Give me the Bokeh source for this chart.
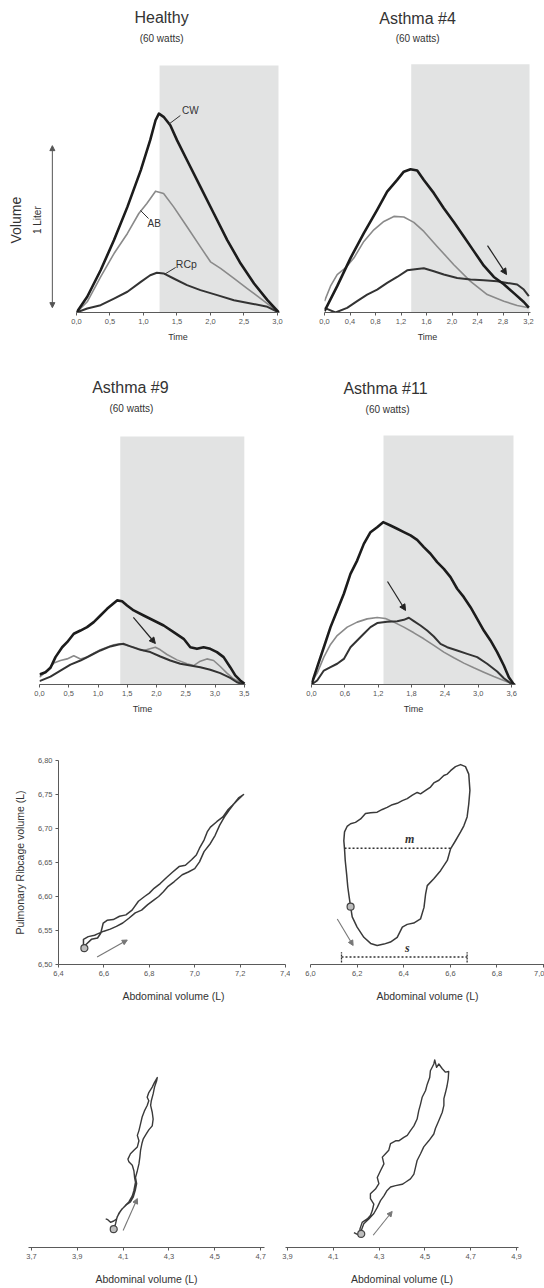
from bokeh.plotting import figure
from bokeh.models import Range1d, LinearAxis, FixedTicker, CustomJSTickFormatter, Arrow, NormalHead
from bokeh.layouts import column, row
from bokeh.embed import file_html
from bokeh.resources import INLINE
from bokeh.core.properties import value

FONT = "Liberation Sans"
CW_COLOR, AB_COLOR, RC_COLOR = "#1c1c1c", "#8a8a8a", "#333333"
SHADE = "#e2e3e3"
AXIS_COLOR, TICK_TEXT, LOOP_COLOR = "#5a5a5a", "#555555", "#3a3a3a"

# ---------------- DATA ----------------
# Healthy (time s, volume L)
h_cw_t = [0, 0.16, 0.36, 0.56, 0.76, 0.96, 1.10, 1.18, 1.23, 1.30, 1.40, 1.50, 1.65, 1.85, 2.05, 2.25, 2.45, 2.65, 2.85, 3.02]
h_cw = [0, 0.097, 0.261, 0.447, 0.652, 0.879, 1.064, 1.187, 1.228, 1.208, 1.156, 1.064, 0.940, 0.776, 0.611, 0.447, 0.302, 0.179, 0.076, 0]
h_ab_t = [0, 0.16, 0.36, 0.56, 0.76, 0.93, 1.05, 1.18, 1.30, 1.45, 1.65, 1.85, 2.00, 2.15, 2.35, 2.55, 2.75, 3.02]
h_ab = [0, 0.066, 0.220, 0.364, 0.488, 0.611, 0.673, 0.749, 0.735, 0.652, 0.529, 0.405, 0.313, 0.272, 0.210, 0.148, 0.086, 0]
h_rc_t = [0, 0.16, 0.36, 0.56, 0.76, 0.96, 1.10, 1.20, 1.30, 1.45, 1.65, 1.85, 2.10, 2.35, 2.60, 2.85, 3.02]
h_rc = [0, 0.025, 0.045, 0.086, 0.128, 0.189, 0.230, 0.245, 0.241, 0.210, 0.169, 0.138, 0.107, 0.076, 0.056, 0.035, 0]
h_shade = [1.24, 3.015, 1.525]
h_ticks = [0, 0.5, 1.0, 1.5, 2.0, 2.5, 3.0]

# Asthma #4
b_cw_t = [0.0, 0.199, 0.408, 0.617, 0.826, 0.983, 1.140, 1.244, 1.349, 1.454, 1.558, 1.715, 1.871, 2.028, 2.185, 2.342, 2.499, 2.656, 2.813, 2.970, 3.126, 3.205]
b_cw = [0.008, 0.163, 0.337, 0.492, 0.636, 0.749, 0.821, 0.872, 0.887, 0.879, 0.821, 0.739, 0.646, 0.560, 0.470, 0.380, 0.290, 0.220, 0.175, 0.120, 0.065, 0.030]
b_ab_t = [0.0, 0.094, 0.199, 0.329, 0.460, 0.617, 0.774, 0.931, 1.088, 1.244, 1.401, 1.558, 1.767, 2.028, 2.290, 2.552, 2.813, 3.022, 3.205]
b_ab = [0.070, 0.163, 0.235, 0.276, 0.337, 0.440, 0.512, 0.564, 0.595, 0.591, 0.558, 0.502, 0.409, 0.296, 0.193, 0.111, 0.070, 0.043, 0.029]
b_rc_t = [0.0, 0.173, 0.355, 0.512, 0.669, 0.826, 0.983, 1.140, 1.297, 1.454, 1.558, 1.715, 1.871, 2.081, 2.290, 2.499, 2.708, 2.865, 3.022, 3.126, 3.205]
b_rc = [0.029, 0.0, 0.029, 0.070, 0.111, 0.142, 0.183, 0.220, 0.261, 0.270, 0.274, 0.255, 0.235, 0.214, 0.204, 0.200, 0.193, 0.183, 0.173, 0.142, 0.101]
b_shade = [1.36, 3.216, 1.537]
b_ticks = [0, 0.4, 0.8, 1.2, 1.6, 2.0, 2.4, 2.8, 3.2]

# Asthma #9
c_cw_t = [0.0, 0.102, 0.188, 0.273, 0.387, 0.472, 0.586, 0.700, 0.813, 0.927, 1.041, 1.155, 1.268, 1.325, 1.411, 1.496, 1.610, 1.780, 1.951, 2.122, 2.292, 2.463, 2.577, 2.691, 2.804, 2.918, 3.032, 3.146, 3.259, 3.345, 3.430, 3.504]
c_cw = [0.062, 0.076, 0.103, 0.169, 0.230, 0.261, 0.313, 0.333, 0.354, 0.385, 0.426, 0.467, 0.502, 0.519, 0.514, 0.488, 0.457, 0.426, 0.395, 0.364, 0.323, 0.282, 0.230, 0.220, 0.230, 0.220, 0.200, 0.169, 0.107, 0.056, 0.025, 0.004]
c_ab_t = [0.0, 0.131, 0.245, 0.358, 0.472, 0.586, 0.700, 0.813, 0.927, 1.041, 1.155, 1.268, 1.382, 1.496, 1.610, 1.780, 1.980, 2.065, 2.179, 2.349, 2.520, 2.634, 2.747, 2.861, 2.975, 3.089, 3.203, 3.316, 3.458]
c_ab = [0.045, 0.086, 0.132, 0.148, 0.158, 0.177, 0.158, 0.169, 0.193, 0.214, 0.230, 0.245, 0.251, 0.241, 0.230, 0.210, 0.230, 0.214, 0.185, 0.152, 0.128, 0.117, 0.144, 0.158, 0.148, 0.111, 0.070, 0.035, 0.008]
c_rc_t = [0.0, 0.188, 0.358, 0.529, 0.700, 0.870, 1.041, 1.212, 1.354, 1.439, 1.553, 1.724, 1.894, 2.065, 2.235, 2.406, 2.577, 2.747, 2.918, 3.089, 3.259, 3.373, 3.487]
c_rc = [0.021, 0.049, 0.086, 0.123, 0.148, 0.179, 0.210, 0.235, 0.247, 0.251, 0.235, 0.214, 0.200, 0.173, 0.148, 0.128, 0.117, 0.107, 0.091, 0.070, 0.041, 0.014, 0.0]
c_shade = [1.38, 3.5, 1.531]
c_ticks = [0, 0.5, 1.0, 1.5, 2.0, 2.5, 3.0, 3.5]

# Asthma #11
d_cw_t = [0.0, 0.102, 0.222, 0.342, 0.462, 0.582, 0.701, 0.821, 0.941, 1.061, 1.181, 1.289, 1.421, 1.541, 1.661, 1.781, 1.900, 2.020, 2.140, 2.260, 2.380, 2.500, 2.620, 2.740, 2.860, 2.980, 3.099, 3.219, 3.339, 3.459, 3.549, 3.639]
d_cw = [0.0, 0.107, 0.230, 0.354, 0.457, 0.560, 0.683, 0.765, 0.868, 0.940, 0.971, 1.002, 0.981, 0.961, 0.940, 0.920, 0.893, 0.848, 0.807, 0.755, 0.714, 0.663, 0.591, 0.539, 0.477, 0.405, 0.333, 0.272, 0.200, 0.117, 0.045, 0.0]
d_ab_t = [0.0, 0.102, 0.222, 0.342, 0.462, 0.642, 0.821, 1.001, 1.181, 1.331, 1.481, 1.661, 1.841, 2.020, 2.200, 2.380, 2.560, 2.740, 2.920, 3.099, 3.279, 3.459, 3.609]
d_ab = [0.014, 0.070, 0.169, 0.247, 0.302, 0.354, 0.385, 0.405, 0.414, 0.407, 0.385, 0.354, 0.319, 0.282, 0.241, 0.200, 0.165, 0.132, 0.103, 0.076, 0.049, 0.025, 0.004]
d_rc_t = [0.0, 0.102, 0.222, 0.342, 0.462, 0.582, 0.701, 0.821, 0.941, 1.061, 1.181, 1.361, 1.541, 1.661, 1.751, 1.841, 1.960, 2.080, 2.200, 2.320, 2.440, 2.620, 2.800, 2.980, 3.159, 3.339, 3.459, 3.579, 3.669]
d_rc = [0.0, 0.025, 0.086, 0.107, 0.128, 0.158, 0.230, 0.272, 0.313, 0.354, 0.379, 0.387, 0.391, 0.399, 0.412, 0.391, 0.364, 0.333, 0.296, 0.251, 0.230, 0.210, 0.189, 0.169, 0.128, 0.080, 0.039, 0.008, 0.0]
d_shade = [1.295, 3.633, 1.537]
d_ticks = [0, 0.6, 1.2, 1.8, 2.4, 3.0, 3.6]

# Loop, healthy (abdominal vs pulmonary ribcage volume, L)
e_abd = [6.510, 6.520, 6.545, 6.572, 6.586, 6.597, 6.614, 6.641, 6.669, 6.697, 6.724, 6.752, 6.779, 6.800, 6.821, 6.848, 6.876, 6.903, 6.931, 6.959, 6.986, 7.007, 7.021, 7.041, 7.055, 7.069, 7.097, 7.124, 7.145, 7.166, 7.186, 7.215,
         7.193, 7.172, 7.152, 7.131, 7.110, 7.090, 7.069, 7.041, 7.021, 7.000, 6.972, 6.945, 6.910, 6.883, 6.862, 6.841, 6.821, 6.793, 6.766, 6.738, 6.710, 6.683, 6.655, 6.628, 6.600, 6.572, 6.559, 6.531, 6.510, 6.510, 6.514]
e_rib = [6.524, 6.529, 6.537, 6.539, 6.546, 6.561, 6.565, 6.566, 6.571, 6.573, 6.580, 6.593, 6.600, 6.605, 6.612, 6.619, 6.628, 6.636, 6.644, 6.646, 6.654, 6.661, 6.671, 6.683, 6.695, 6.702, 6.710, 6.717, 6.727, 6.734, 6.741, 6.750,
         6.745, 6.736, 6.727, 6.717, 6.705, 6.690, 6.678, 6.666, 6.651, 6.641, 6.636, 6.632, 6.622, 6.615, 6.607, 6.600, 6.595, 6.588, 6.580, 6.576, 6.568, 6.561, 6.556, 6.552, 6.549, 6.545, 6.543, 6.541, 6.537, 6.529, 6.524]
e_start = [6.514, 6.524]
e_arrow = [6.570, 6.511, 6.703, 6.536]

# Loop, asthma
f_abd = [6.172, 6.179, 6.200, 6.229, 6.258, 6.286, 6.315, 6.343, 6.372, 6.394, 6.415, 6.443, 6.472, 6.487, 6.494, 6.501, 6.529, 6.558, 6.587, 6.601,
         6.622, 6.644, 6.658, 6.672, 6.679, 6.684, 6.679, 6.665, 6.644, 6.622, 6.601, 6.587, 6.572, 6.551, 6.529, 6.515, 6.494, 6.472, 6.458, 6.437,
         6.415, 6.394, 6.372, 6.351, 6.329, 6.308, 6.286, 6.258, 6.236, 6.215, 6.193, 6.172, 6.157, 6.146, 6.143, 6.146, 6.149, 6.155, 6.160, 6.166, 6.172]
f_rib = [6.585, 6.570, 6.555, 6.540, 6.531, 6.528, 6.530, 6.533, 6.540, 6.555, 6.559, 6.561, 6.567, 6.584, 6.604, 6.616, 6.626, 6.638, 6.653, 6.670,
         6.682, 6.695, 6.704, 6.717, 6.736, 6.756, 6.780, 6.791, 6.794, 6.791, 6.785, 6.780, 6.778, 6.771, 6.767, 6.761, 6.756, 6.751, 6.753, 6.749,
         6.744, 6.741, 6.737, 6.735, 6.731, 6.728, 6.724, 6.723, 6.722, 6.714, 6.709, 6.707, 6.703, 6.695, 6.682, 6.670, 6.653, 6.633, 6.614, 6.599, 6.585]
f_start = [6.172, 6.585]
f_arrow = [6.115, 6.567, 6.183, 6.528]
m_abd = [6.146, 6.601]
m_level = 6.671
s_abd = [6.133, 6.672]
s_level = 6.511

# Bottom loops
g_abd = [4.059, 4.067, 4.074, 4.089, 4.110, 4.125, 4.140, 4.147, 4.154, 4.150, 4.147, 4.140, 4.125, 4.121, 4.132, 4.147, 4.162, 4.169, 4.162, 4.169,
         4.176, 4.183, 4.193, 4.205, 4.212, 4.205, 4.212, 4.227, 4.237, 4.249,
         4.246, 4.237, 4.231, 4.223, 4.220, 4.227, 4.231, 4.227, 4.212, 4.199, 4.188, 4.182, 4.176, 4.173, 4.169, 4.162, 4.154, 4.159, 4.153, 4.144,
         4.132, 4.115, 4.096, 4.081, 4.071, 4.059, 4.045, 4.033, 4.024]
g_rib = [5.027, 5.035, 5.045, 5.054, 5.062, 5.067, 5.076, 5.084, 5.096, 5.103, 5.113, 5.121, 5.126, 5.130, 5.138, 5.143, 5.148, 5.157, 5.165, 5.172,
         5.182, 5.192, 5.201, 5.209, 5.216, 5.221, 5.228, 5.236, 5.243, 5.250,
         5.245, 5.236, 5.226, 5.216, 5.209, 5.199, 5.189, 5.179, 5.173, 5.166, 5.160, 5.153, 5.143, 5.133, 5.123, 5.113, 5.103, 5.094, 5.084, 5.074,
         5.067, 5.063, 5.057, 5.050, 5.042, 5.039, 5.037, 5.041, 5.042]
g_start = [4.059, 5.027]
g_arrow = [4.100, 5.025, 4.162, 5.072]

hh_abd = [4.219, 4.216, 4.226, 4.248, 4.262, 4.270, 4.277, 4.262, 4.262, 4.284, 4.299, 4.292, 4.306, 4.321, 4.314, 4.328, 4.342, 4.350, 4.372, 4.386,
          4.408, 4.423, 4.437, 4.452, 4.466, 4.473, 4.481, 4.488, 4.503, 4.510, 4.521, 4.524, 4.539, 4.543, 4.551, 4.561, 4.576, 4.590, 4.604, 4.602,
          4.597, 4.590, 4.583, 4.583, 4.576, 4.561, 4.546, 4.539, 4.517, 4.495, 4.481, 4.466, 4.459, 4.452, 4.437, 4.415, 4.401, 4.372, 4.350, 4.335,
          4.321, 4.306, 4.292, 4.277, 4.255, 4.233, 4.222, 4.219]
hh_rib = [5.018, 5.027, 5.037, 5.042, 5.047, 5.054, 5.064, 5.072, 5.079, 5.086, 5.094, 5.103, 5.113, 5.123, 5.133, 5.138, 5.143, 5.153, 5.157, 5.157,
          5.162, 5.165, 5.172, 5.179, 5.189, 5.201, 5.211, 5.221, 5.231, 5.240, 5.250, 5.260, 5.270, 5.276, 5.265, 5.270, 5.263, 5.258, 5.259, 5.248,
          5.238, 5.228, 5.219, 5.209, 5.199, 5.187, 5.175, 5.167, 5.157, 5.148, 5.138, 5.128, 5.118, 5.108, 5.101, 5.096, 5.093, 5.091, 5.089, 5.084,
          5.076, 5.069, 5.059, 5.050, 5.042, 5.035, 5.025, 5.018]
hh_tail_abd = [4.190, 4.207, 4.219]
hh_tail_rib = [5.022, 5.019, 5.018]
hh_start = [4.222, 5.020]
hh_arrow = [4.274, 5.018, 4.357, 5.053]

e_xticks = [6.4, 6.6, 6.8, 7.0, 7.2, 7.4]
e_yticks = [6.50, 6.55, 6.60, 6.65, 6.70, 6.75, 6.80]
f_xticks = [6.0, 6.2, 6.4, 6.6, 6.8, 7.0]
g_xticks = [3.7, 3.9, 4.1, 4.3, 4.5, 4.7]
hh_xticks = [3.9, 4.1, 4.3, 4.5, 4.7, 4.9]


# ---------------- HELPERS ----------------
def make_fig(w, h, borders, xr, yr):
    l, r, t, b = borders
    p = figure(width=w, height=h, x_range=Range1d(*xr), y_range=Range1d(*yr),
               x_axis_location=None, y_axis_location=None, tools="",
               toolbar_location=None, output_backend="svg",
               min_border_left=l, min_border_right=r, min_border_top=t, min_border_bottom=b)
    p.xgrid.visible = False
    p.ygrid.visible = False
    p.outline_line_color = None
    p.background_fill_color = "white"
    p.border_fill_color = "white"
    return p


def fmt(d):
    return CustomJSTickFormatter(code="return tick.toFixed(%d).replace('.', ',');" % d)


def add_axis(p, side, ticks, digits, label, label_size, standoff, bounds="auto"):
    ax = LinearAxis(ticker=FixedTicker(ticks=ticks), formatter=fmt(digits), bounds=bounds)
    ax.axis_label = label
    ax.axis_line_color = AXIS_COLOR
    ax.major_tick_line_color = AXIS_COLOR
    ax.major_tick_in = 0
    ax.major_tick_out = 3
    ax.minor_tick_line_color = None
    ax.major_label_text_font = FONT
    ax.major_label_text_font_size = "7.5px"
    ax.major_label_text_color = TICK_TEXT
    ax.major_label_standoff = 3
    ax.axis_label_text_font = FONT
    ax.axis_label_text_font_size = label_size
    ax.axis_label_text_font_style = "normal"
    ax.axis_label_text_color = "#333333"
    ax.axis_label_standoff = standoff
    p.add_layout(ax, side)
    return ax


def txt(p, x, y, s, size, color="#333333", align="center", angle=0.0, font=FONT, style="normal"):
    p.text(x=[x], y=[y], text=[s], text_font=value(font), text_font_size=size,
           text_color=color, text_align=align, text_baseline="middle", angle=angle,
           text_font_style=style)


def arrow(p, x0, y0, x1, y1, color, size=6, width=1.2):
    p.add_layout(Arrow(end=NormalHead(size=size, fill_color=color, line_color=color),
                       x_start=x0, y_start=y0, x_end=x1, y_end=y1,
                       line_color=color, line_width=width))


def time_panel(w, h, borders, xr, yr, shade, series, ticks):
    p = make_fig(w, h, borders, xr, yr)
    p.quad(left=[shade[0]], right=[shade[1]], bottom=[0], top=[shade[2]], fill_color=SHADE, line_color=None)
    for (tx, vy, col, lw) in series:
        p.line(tx, vy, line_color=col, line_width=lw, line_join="round")
    add_axis(p, "below", ticks, 1, "Time", "9px", 5)
    return p


# ---------------- ROW 1 ----------------
vol = make_fig(68, 352, (0, 0, 0, 40), (-1.134, -0.119), (0, 1.926))
vol.add_layout(Arrow(start=NormalHead(size=5, fill_color="#555555", line_color="#555555"),
                     end=NormalHead(size=5, fill_color="#555555", line_color="#555555"),
                     x_start=-0.36, y_start=0.03, x_end=-0.36, y_end=1.03,
                     line_color="#555555", line_width=1))
txt(vol, -0.91, 0.57, "Volume", "14px", angle=1.5708)
txt(vol, -0.58, 0.57, "1 Liter", "10px", angle=1.5708)

pa = time_panel(222, 352, (8, 11, 0, 40), (0, 3.03), (0, 1.926), h_shade,
                [(h_ab_t, h_ab, AB_COLOR, 1.6), (h_rc_t, h_rc, RC_COLOR, 2.0), (h_cw_t, h_cw, CW_COLOR, 2.6)],
                h_ticks)
txt(pa, 1.27, 1.821, "Healthy", "16px")
txt(pa, 1.27, 1.691, "(60 watts)", "10px")
pa.segment(x0=[1.37, 0.955, 1.31], y0=[1.160, 0.630, 0.235], x1=[1.55, 1.075, 1.48], y1=[1.216, 0.580, 0.278],
           line_color="#333333", line_width=1)
txt(pa, 1.70, 1.247, "CW", "10px")
txt(pa, 1.16, 0.549, "AB", "10px")
txt(pa, 1.64, 0.302, "RCp", "10.5px")

pb = time_panel(254, 352, (34, 14, 0, 39), (0, 3.231), (0, 1.932), b_shade,
                [(b_ab_t, b_ab, AB_COLOR, 1.6), (b_rc_t, b_rc, RC_COLOR, 2.0), (b_cw_t, b_cw, CW_COLOR, 2.6)],
                b_ticks)
txt(pb, 1.46, 1.821, "Asthma #4", "16px")
txt(pb, 1.46, 1.698, "(60 watts)", "10px")
arrow(pb, 2.557, 0.414, 2.855, 0.235, "#222222")

# ---------------- ROW 2 ----------------
pc = time_panel(290, 378, (39, 45, 0, 46), (0, 3.52), (0, 2.049), c_shade,
                [(c_ab_t, c_ab, AB_COLOR, 1.6), (c_rc_t, c_rc, RC_COLOR, 2.0), (c_cw_t, c_cw, CW_COLOR, 2.6)],
                c_ticks)
txt(pc, 1.553, 1.833, "Asthma #9", "16px")
txt(pc, 1.570, 1.704, "(60 watts)", "10px")
arrow(pc, 1.604, 0.414, 1.980, 0.253, "#222222")

pd = time_panel(254, 378, (21, 29, 0, 46), (0, 3.669), (0, 2.049), d_shade,
                [(d_ab_t, d_ab, AB_COLOR, 1.6), (d_rc_t, d_rc, RC_COLOR, 2.0), (d_cw_t, d_cw, CW_COLOR, 2.6)],
                d_ticks)
txt(pd, 1.331, 1.827, "Asthma #11", "16px")
txt(pd, 1.367, 1.698, "(60 watts)", "10px")
arrow(pd, 1.367, 0.636, 1.691, 0.457, "#222222")

# ---------------- ROW 3 ----------------
pe = make_fig(290, 280, (58, 2, 30, 46), (6.4, 7.413), (6.5, 6.8))
add_axis(pe, "below", e_xticks, 1, "Abdominal volume (L)", "10.5px", 11, bounds=(6.4, 7.4))
add_axis(pe, "left", e_yticks, 2, "Pulmonary Ribcage volume (L)", "10.5px", 9)
pe.line(e_abd, e_rib, line_color=LOOP_COLOR, line_width=1.5, line_join="round")
pe.scatter([e_start[0]], [e_start[1]], size=7, marker="circle", line_color="#444444", fill_color="#bdbdbd", line_width=1.2)
arrow(pe, e_arrow[0], e_arrow[1], e_arrow[2], e_arrow[3], "#777777", size=5, width=1.1)

pf = make_fig(254, 280, (20, 0, 30, 46), (6.0, 7.004), (6.5, 6.8))
add_axis(pf, "below", f_xticks, 1, "Abdominal volume (L)", "10.5px", 11)
pf.line(f_abd, f_rib, line_color=LOOP_COLOR, line_width=1.5, line_join="round")
pf.line(m_abd, [m_level, m_level], line_color="#333333", line_width=1.5, line_dash="2 2")
pf.line(s_abd, [s_level, s_level], line_color="#333333", line_width=1.5, line_dash="2 2")
pf.segment(x0=[s_abd[0], s_abd[1]], y0=[6.503, 6.503], x1=[s_abd[0], s_abd[1]], y1=[6.518, 6.518],
           line_color="#333333", line_width=1.3, line_dash="2 1")
txt(pf, 6.426, 6.685, "m", "12px", font="Liberation Serif", style="bold italic")
txt(pf, 6.415, 6.525, "s", "12px", font="Liberation Serif", style="bold italic")
pf.scatter([f_start[0]], [f_start[1]], size=7, marker="circle", line_color="#444444", fill_color="#bdbdbd", line_width=1.2)
arrow(pf, f_arrow[0], f_arrow[1], f_arrow[2], f_arrow[3], "#777777", size=5, width=1.1)

# ---------------- ROW 4 ----------------
pg = make_fig(278, 278, (28, 14, 10, 41), (3.687, 4.717), (5.0, 5.334))
add_axis(pg, "below", g_xticks, 1, "Abdominal volume (L)", "10.5px", 11)
pg.line(g_abd, g_rib, line_color=LOOP_COLOR, line_width=1.4, line_join="round")
pg.scatter([g_start[0]], [g_start[1]], size=7, marker="circle", line_color="#444444", fill_color="#bdbdbd", line_width=1.2)
arrow(pg, g_arrow[0], g_arrow[1], g_arrow[2], g_arrow[3], "#777777", size=5, width=1.1)

ph = make_fig(266, 278, (7, 26, 10, 41), (3.891, 4.909), (5.0, 5.334))
add_axis(ph, "below", hh_xticks, 1, "Abdominal volume (L)", "10.5px", 11)
ph.line(hh_abd, hh_rib, line_color=LOOP_COLOR, line_width=1.4, line_join="round")
ph.line(hh_tail_abd, hh_tail_rib, line_color=LOOP_COLOR, line_width=1.4)
ph.scatter([hh_start[0]], [hh_start[1]], size=7, marker="circle", line_color="#444444", fill_color="#bdbdbd", line_width=1.2)
arrow(ph, hh_arrow[0], hh_arrow[1], hh_arrow[2], hh_arrow[3], "#777777", size=5, width=1.1)

layout = column(row(vol, pa, pb), row(pc, pd), row(pe, pf), row(pg, ph))
open("out.html", "w").write(file_html(layout, INLINE))
